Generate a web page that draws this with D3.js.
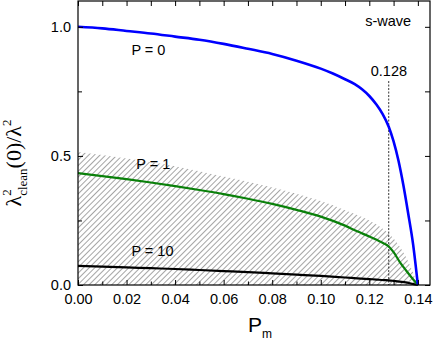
<!DOCTYPE html>
<html>
<head>
<meta charset="utf-8">
<script src="https://cdn.jsdelivr.net/npm/d3@7"></script>
<style>
  html, body { margin: 0; padding: 0; background: #fff; }
  svg { display: block; font-family: "Liberation Sans", Arial, sans-serif; }
</style>
</head>
<body>
<div id="chart"></div>
<script>
// values
const P_M = [0, 0.01, 0.02, 0.03, 0.04, 0.05, 0.06, 0.07, 0.08, 0.09, 0.10, 0.105, 0.11, 0.114, 0.117, 0.12, 0.123, 0.1255, 0.128, 0.13, 0.132, 0.134, 0.136, 0.138, 0.14];
const P0 = [1.0, 0.994, 0.984, 0.974, 0.962, 0.950, 0.934, 0.915, 0.895, 0.869, 0.838, 0.819, 0.797, 0.778, 0.758, 0.732, 0.698, 0.662, 0.613, 0.556, 0.482, 0.388, 0.278, 0.16, 0];

const P_M_LOW = [0, 0.01, 0.02, 0.03, 0.04, 0.05, 0.06, 0.07, 0.08, 0.09, 0.10, 0.11, 0.115, 0.12, 0.123, 0.126, 0.128, 0.13, 0.1325, 0.135, 0.1375, 0.14];
const P1 = [0.433, 0.422, 0.41, 0.397, 0.383, 0.368, 0.352, 0.334, 0.314, 0.291, 0.265, 0.23, 0.208, 0.188, 0.175, 0.161, 0.149, 0.127, 0.09, 0.058, 0.028, 0];
const P10 = [0.074, 0.071, 0.068, 0.065, 0.062, 0.058, 0.054, 0.05, 0.045, 0.04, 0.035, 0.029, 0.026, 0.023, 0.021, 0.019, 0.018, 0.016, 0.013, 0.01, 0.005, 0];

const HATCH_X = [0, 0.02, 0.04, 0.06, 0.08, 0.10, 0.11, 0.12, 0.125, 0.13, 0.135, 0.14];
const HATCH_TOP = [0.515, 0.49, 0.46, 0.42, 0.378, 0.325, 0.29, 0.25, 0.222, 0.18, 0.11, 0];

const X_TICKS = [0, 0.02, 0.04, 0.06, 0.08, 0.10, 0.12, 0.14];
const X_MINOR = [0.01, 0.03, 0.05, 0.07, 0.09, 0.11, 0.13];
const Y_TICKS = [0, 0.5, 1.0];
const Y_MINOR = [0.25, 0.75];
const MARK_X = 0.128;

const W = 436, H = 342;
const margin = { top: 1, right: 6, bottom: 57, left: 78 };
const width = W - margin.left - margin.right;
const height = H - margin.top - margin.bottom;

const root = d3.select("#chart").append("svg")
    .attr("width", W)
    .attr("height", H);

// hatch pattern, "/" lines
root.append("defs").append("pattern")
    .attr("id", "hatch")
    .attr("patternUnits", "userSpaceOnUse")
    .attr("width", 4)
    .attr("height", 4)
    .attr("patternTransform", "rotate(45)")
    .append("line")
    .attr("x1", 0.5).attr("y1", 0)
    .attr("x2", 0.5).attr("y2", 4)
    .attr("stroke", "#8e8e8e")
    .attr("stroke-width", 0.8);

const svg = root.append("g")
    .attr("transform", `translate(${margin.left},${margin.top})`);

const x = d3.scaleLinear().domain([0, 0.145]).range([0, width]);
const y = d3.scaleLinear().domain([0, 1.1]).range([height, 0]);

// hatched region
const area = d3.area()
    .x(d => x(d[0]))
    .y0(y(0))
    .y1(d => y(d[1]))
    .curve(d3.curveMonotoneX);
svg.append("path")
    .datum(HATCH_X.map((v, i) => [v, HATCH_TOP[i]]))
    .attr("fill", "url(#hatch)")
    .attr("d", area);

// dashed marker
svg.append("line")
    .attr("x1", x(MARK_X)).attr("x2", x(MARK_X))
    .attr("y1", y(0.79)).attr("y2", y(0))
    .attr("stroke", "#000")
    .attr("stroke-width", 0.8)
    .attr("stroke-dasharray", "2,1.5");

const line = d3.line()
    .x(d => x(d[0]))
    .y(d => y(d[1]))
    .curve(d3.curveMonotoneX);

const series = [
    { xs: P_M_LOW, ys: P10, color: "#000000", w: 2.2 },
    { xs: P_M_LOW, ys: P1, color: "#0a800a", w: 2.2 },
    { xs: P_M, ys: P0, color: "#0000ff", w: 2.6 }
];
series.forEach(s => {
    svg.append("path")
        .datum(s.xs.map((v, i) => [v, s.ys[i]]))
        .attr("fill", "none")
        .attr("stroke", s.color)
        .attr("stroke-width", s.w)
        .attr("d", line);
});

// axes, ticks inside on all sides
const fmtX = d3.format(".2f");
const fmtY = d3.format(".1f");
function styleAxis(g) {
    g.select(".domain").remove();
    g.selectAll(".tick line").attr("stroke", "#000");
    g.selectAll("text").attr("font-size", 14.5).attr("fill", "#000")
        .attr("font-family", "Liberation Sans, Arial, sans-serif");
}

svg.append("g").attr("transform", `translate(0,${height})`)
    .call(d3.axisBottom(x).tickValues(X_TICKS).tickSize(-5).tickPadding(9).tickFormat(fmtX))
    .call(styleAxis);
svg.append("g").attr("transform", `translate(0,${height})`)
    .call(d3.axisBottom(x).tickValues(X_MINOR).tickSize(-3.5).tickFormat(""))
    .call(styleAxis);
svg.append("g")
    .call(d3.axisTop(x).tickValues(X_TICKS.concat(X_MINOR)).tickSize(-5).tickFormat(""))
    .call(styleAxis);

svg.append("g")
    .call(d3.axisLeft(y).tickValues(Y_TICKS).tickSize(-5).tickPadding(7).tickFormat(fmtY))
    .call(styleAxis);
svg.append("g")
    .call(d3.axisLeft(y).tickValues(Y_MINOR).tickSize(-4).tickFormat(""))
    .call(styleAxis);
svg.append("g").attr("transform", `translate(${width},0)`)
    .call(d3.axisRight(y).tickValues(Y_TICKS.concat(Y_MINOR)).tickSize(-5).tickFormat(""))
    .call(styleAxis);

// frame
svg.append("rect")
    .attr("x", 0).attr("y", 0)
    .attr("width", width).attr("height", height)
    .attr("fill", "none")
    .attr("stroke", "#000")
    .attr("stroke-width", 1.2);

// annotations
const notes = [
    { t: "P = 0", px: 0.022, py: 0.89 },
    { t: "P = 1", px: 0.024, py: 0.45 },
    { t: "P = 10", px: 0.022, py: 0.112 },
    { t: "s-wave", px: 0.1183, py: 1.005 },
    { t: "0.128", px: 0.1206, py: 0.809 }
];
svg.selectAll(".note")
    .data(notes)
    .enter().append("text")
    .attr("x", d => x(d.px))
    .attr("y", d => y(d.py))
    .attr("font-size", 14.5)
    .attr("fill", "#000")
    .text(d => d.t);

// x label
const xl = root.append("text")
    .attr("x", margin.left + width / 2 + 6)
    .attr("y", 332)
    .attr("text-anchor", "middle")
    .attr("font-size", 21);
xl.append("tspan").text("P");
xl.append("tspan").attr("font-size", 12).attr("dy", 6).text("m");

// y label
const yl = root.append("text")
    .attr("transform", "translate(21,163) rotate(-90)")
    .attr("text-anchor", "middle")
    .attr("font-family", "Liberation Serif, Times New Roman, serif")
    .attr("font-size", 22);
yl.append("tspan").text("λ");
yl.append("tspan").attr("font-size", 13).attr("dy", -10).text("2");
yl.append("tspan").attr("font-size", 13).attr("dx", -6.5).attr("dy", 16).text("clean");
yl.append("tspan").attr("dy", -6).text("(0)/λ");
yl.append("tspan").attr("font-size", 13).attr("dy", -10).text("2");
</script>
</body>
</html>
